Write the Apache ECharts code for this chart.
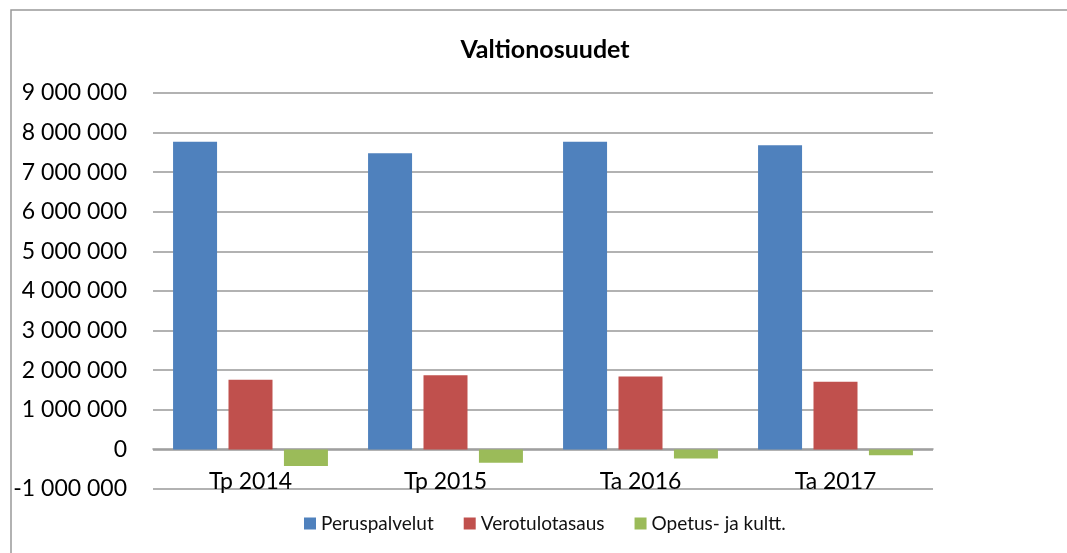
<!DOCTYPE html>
<html>
<head>
<meta charset="utf-8">
<script src="https://cdn.jsdelivr.net/npm/echarts@6/dist/echarts.min.js"></script>
<style>
  html, body { margin: 0; padding: 0; background: #fff; }
  #chart { width: 1067px; height: 553px; }
</style>
</head>
<body>
<div id="chart"></div>
<script>
// kategoriat ja sarjat
var vuodet = ['Tp 2014', 'Tp 2015', 'Ta 2016', 'Ta 2017'];
var peruspalvelut = [7770000, 7480000, 7770000, 7680000];
var verotulotasaus = [1760000, 1870000, 1840000, 1710000];
var opetusKultt = [-420000, -340000, -230000, -150000];
var sarjaNimet = ['Peruspalvelut', 'Verotulotasaus', 'Opetus- ja kultt.'];
var fontti = 'Lato, "Open Sans", sans-serif';

function muotoile(v) {
  // tuhaterotin välilyönnillä
  var s = String(Math.abs(v)).replace(/\B(?=(\d{3})+(?!\d))/g, ' ');
  return (v < 0 ? '-' : '') + s;
}

var chart = echarts.init(document.getElementById('chart'));
var option = {
  backgroundColor: '#fff',
  animation: false,
  color: ['#4F81BD', '#C0504D', '#9BBB59'],
  graphic: [{
    type: 'rect',
    shape: { x: 11, y: 10, width: 1200, height: 700 },
    style: { fill: 'none', stroke: '#999', lineWidth: 1.5 },
    silent: true
  }],
  title: {
    text: 'Valtionosuudet',
    left: 540,
    textAlign: 'center',
    top: 32,
    textStyle: { fontFamily: fontti, fontSize: 25, fontWeight: 'bold', color: '#000' }
  },
  legend: {
    data: sarjaNimet,
    left: 304,
    top: 514,
    padding: 0,
    itemWidth: 12,
    itemHeight: 12,
    itemGap: 30,
    icon: 'rect',
    textStyle: { fontFamily: fontti, fontSize: 19, color: '#111' }
  },
  grid: {
    left: 153,
    right: 134,
    top: 93,
    bottom: 64
  },
  xAxis: {
    type: 'category',
    data: vuodet,
    offset: -40,
    axisTick: { show: false },
    axisLine: { onZero: false, lineStyle: { color: '#999', width: 1.5 } },
    axisLabel: { margin: 21, fontFamily: fontti, fontSize: 23, color: '#000' }
  },
  yAxis: {
    type: 'value',
    min: -1000000,
    max: 9000000,
    interval: 1000000,
    axisLine: { show: false },
    axisTick: { show: false },
    splitLine: { lineStyle: { color: '#999', width: 1.5 } },
    axisLabel: {
      margin: 26,
      fontFamily: fontti,
      fontSize: 23,
      color: '#000',
      formatter: muotoile
    }
  },
  series: [
    { name: sarjaNimet[0], type: 'bar', data: peruspalvelut, barWidth: 44, barGap: '26%' },
    { name: sarjaNimet[1], type: 'bar', data: verotulotasaus, barWidth: 44, barGap: '26%' },
    { name: sarjaNimet[2], type: 'bar', data: opetusKultt, barWidth: 44, barGap: '26%' }
  ]
};
chart.setOption(option);
</script>
</body>
</html>
